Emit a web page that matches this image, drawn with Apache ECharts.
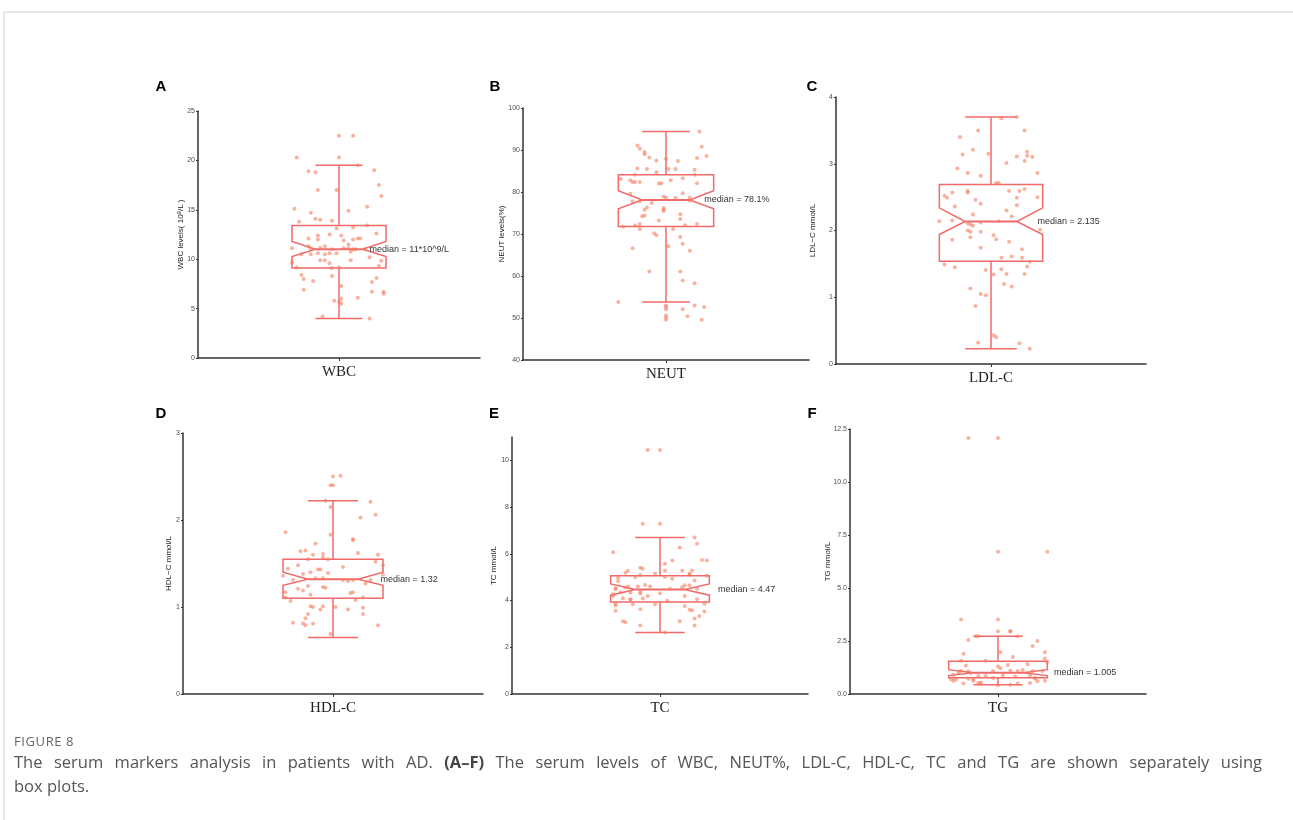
<!DOCTYPE html>
<html>
<head>
<meta charset="utf-8">
<title>Figure 8</title>
<script src="https://cdn.jsdelivr.net/npm/echarts@6/dist/echarts.min.js"></script>
<style>
  html, body { margin: 0; padding: 0; background: #fff; }
  #wrap { position: relative; width: 1293px; height: 820px; overflow: hidden; }
  #chart { width: 1293px; height: 820px; }
  .cap { position: absolute; left: 14px; font-family: "Open Sans", sans-serif; color: #555; }
  #figno { top: 732px; font-size: 13px; letter-spacing: 0.6px; color: #666; }
  #line1 { top: 750px; width: 1248px; font-size: 16.5px; line-height: 24px; text-align: justify; text-align-last: justify; white-space: nowrap; }
  #line2 { top: 774px; font-size: 16.5px; line-height: 24px; }
  #line1 b { color: #444; }
</style>
</head>
<body>
<div id="wrap">
  <div id="chart"></div>
  <div class="cap" id="figno">FIGURE 8</div>
  <div class="cap" id="line1">The serum markers analysis in patients with AD. <b>(A–F)</b> The serum levels of WBC, NEUT%, LDL-C, HDL-C, TC and TG are shown separately using</div>
  <div class="cap" id="line2">box plots.</div>
</div>
<script>
// 数据：六个指标
const categories = ['WBC', 'NEUT', 'LDL-C', 'HDL-C', 'TC', 'TG'];
const panelLetters = ['A', 'B', 'C', 'D', 'E', 'F'];
const yNames = ['WBC levels( 10{sup|9}/L )', 'NEUT levels(%)', 'LDL\u2212C mmol/L', 'HDL\u2212C mmol/L', 'TC mmol/L', 'TG mmol/L'];
const medianLabels = ['median = 11*10^9/L', 'median = 78.1%', 'median = 2.135', 'median = 1.32', 'median = 4.47', 'median = 1.005'];

// y 轴范围 / 刻度
const yMin = [0, 40, 0, 0, 0, 0];
const yMax = [25, 100, 4, 3, 11, 12.5];
const yInterval = [5, 10, 1, 1, 2, 2.5];
const tcTicks = [0, 2, 4, 6, 8, 10];

// 箱线: [下须, Q1, 中位数, Q3, 上须]，缺口: [下, 上]
const wbcBox = [4.0, 9.1, 11.0, 13.4, 19.5];
const wbcNotch = [10.28, 11.79];
const neutBox = [53.8, 71.8, 78.1, 84.1, 94.4];
const neutNotch = [76.0, 80.3];
const ldlBox = [0.23, 1.54, 2.135, 2.69, 3.70];
const ldlNotch = [1.94, 2.34];
const hdlBox = [0.65, 1.10, 1.32, 1.55, 2.22];
const hdlNotch = [1.25, 1.40];
const tcBox = [2.63, 3.94, 4.47, 5.06, 6.70];
const tcNotch = [4.23, 4.71];
const tgBox = [0.44, 0.77, 1.005, 1.54, 2.72];
const tgNotch = [0.87, 1.15];

// 散点: [抖动偏移, 值]
const wbcPoints = [[0.00,22.5],[0.06,22.5],[-0.18,20.3],[0.00,20.3],[0.08,19.5],[-0.13,18.9],[-0.10,18.8],[0.15,19.0],[0.17,17.5],[-0.09,17.0],[-0.01,17.0],[0.18,16.4],[-0.19,15.1],[0.12,15.3],[-0.12,14.7],[0.04,14.9],[-0.17,13.8],[-0.10,14.1],[-0.08,14.0],[-0.03,13.9],[0.12,13.4],[-0.01,13.1],[0.06,13.2],[0.16,12.6],[-0.09,12.4],[-0.04,12.5],[0.01,12.4],[-0.13,12.1],[-0.09,12.0],[0.08,12.1],[0.09,12.1],[0.04,11.5],[0.02,11.9],[0.06,12.0],[-0.20,11.1],[-0.13,11.3],[-0.12,11.05],[-0.06,11.3],[-0.08,11.15],[-0.03,11.0],[0.02,11.1],[0.04,11.1],[0.06,11.0],[0.07,11.0],[0.11,11.0],[-0.16,10.5],[-0.12,10.5],[-0.09,10.6],[-0.06,10.5],[-0.04,10.6],[-0.01,10.6],[0.05,10.75],[0.13,10.2],[-0.08,9.9],[-0.06,9.9],[0.05,9.9],[0.18,9.85],[-0.20,9.7],[-0.04,9.6],[-0.18,9.15],[-0.03,9.1],[0.00,9.15],[0.17,9.3],[-0.16,8.4],[-0.15,8.0],[-0.03,8.3],[0.16,8.1],[-0.11,7.8],[0.14,7.7],[0.01,7.3],[-0.15,6.9],[0.14,6.7],[0.19,6.7],[0.19,6.5],[0.08,6.1],[-0.02,5.8],[0.01,6.0],[0.00,5.7],[0.01,5.5],[-0.07,4.2],[0.13,4.0]];
const neutPoints = [[0.14,94.4],[-0.12,91.1],[-0.11,90.3],[0.15,90.8],[-0.09,89.5],[-0.09,89.0],[-0.07,88.2],[0.17,88.6],[0.13,88.1],[0.00,87.9],[-0.04,87.5],[0.05,87.4],[-0.12,85.6],[-0.08,85.5],[0.01,85.5],[0.04,85.5],[0.12,85.3],[-0.04,84.7],[-0.13,84.1],[0.12,84.1],[-0.19,83.1],[0.07,83.3],[-0.15,82.8],[-0.14,82.4],[-0.13,82.4],[-0.11,82.4],[0.02,82.8],[-0.03,82.0],[-0.02,82.1],[0.13,82.1],[-0.15,79.6],[0.07,79.7],[-0.01,78.9],[0.00,78.6],[0.04,78.6],[-0.14,77.8],[-0.11,77.8],[-0.06,77.4],[0.10,78.7],[0.10,77.9],[-0.08,76.3],[-0.09,75.8],[-0.01,76.2],[-0.01,75.8],[-0.01,75.5],[-0.09,74.4],[-0.10,74.2],[0.06,74.7],[0.06,73.6],[-0.03,73.2],[-0.11,72.4],[-0.13,72.0],[0.08,72.1],[0.13,72.4],[-0.18,71.7],[-0.11,71.2],[0.03,71.2],[-0.05,70.2],[-0.04,69.7],[0.06,69.3],[0.07,67.7],[0.01,67.1],[-0.14,66.6],[0.10,66.0],[-0.07,61.1],[0.06,61.1],[0.07,58.9],[0.12,58.3],[-0.20,53.8],[0.00,53.0],[0.00,52.6],[0.00,52.1],[0.12,53.0],[0.16,52.6],[0.07,52.1],[0.09,50.4],[0.00,50.6],[0.00,50.1],[0.00,49.6],[0.15,49.6]];
const ldlPoints = [[0.04,3.68],[0.10,3.70],[-0.05,3.50],[0.13,3.50],[-0.12,3.40],[-0.11,3.14],[-0.07,3.21],[-0.01,3.15],[0.14,3.18],[0.10,3.11],[0.14,3.12],[0.16,3.10],[0.06,3.01],[0.13,3.04],[-0.13,2.93],[-0.09,2.86],[-0.04,2.82],[0.18,2.86],[0.02,2.71],[0.03,2.71],[-0.18,2.52],[-0.17,2.49],[-0.15,2.57],[-0.09,2.57],[-0.09,2.59],[0.07,2.59],[0.11,2.59],[0.13,2.62],[0.18,2.50],[-0.14,2.36],[-0.06,2.46],[-0.04,2.40],[0.10,2.49],[0.10,2.38],[0.06,2.30],[-0.07,2.24],[0.08,2.21],[-0.20,2.14],[-0.15,2.15],[-0.09,2.11],[-0.08,2.09],[-0.07,2.07],[-0.04,2.12],[0.03,2.14],[-0.09,2.00],[-0.08,1.98],[-0.04,1.98],[-0.08,1.90],[0.01,1.93],[0.02,1.87],[0.07,1.83],[-0.15,1.86],[0.19,2.01],[-0.04,1.74],[0.12,1.72],[0.12,1.59],[0.04,1.59],[0.08,1.61],[-0.18,1.49],[-0.14,1.45],[0.15,1.53],[0.14,1.46],[-0.02,1.41],[0.04,1.42],[0.01,1.34],[0.06,1.35],[0.13,1.35],[0.05,1.20],[0.08,1.16],[-0.08,1.13],[-0.04,1.05],[-0.02,1.03],[-0.06,0.87],[0.01,0.43],[0.02,0.40],[-0.05,0.32],[0.11,0.31],[0.15,0.23]];
const hdlPoints = [[0.00,2.50],[0.03,2.51],[-0.01,2.40],[0.00,2.40],[0.15,2.21],[-0.03,2.22],[-0.01,2.15],[0.17,2.06],[0.11,2.03],[-0.19,1.86],[-0.01,1.83],[0.08,1.78],[0.08,1.77],[-0.07,1.73],[-0.13,1.64],[-0.11,1.65],[0.10,1.62],[-0.08,1.60],[-0.04,1.61],[-0.04,1.57],[0.18,1.60],[-0.10,1.55],[-0.02,1.55],[0.17,1.52],[-0.18,1.44],[-0.14,1.48],[0.04,1.46],[0.20,1.48],[-0.09,1.40],[-0.06,1.43],[-0.05,1.43],[-0.02,1.39],[-0.20,1.36],[-0.12,1.38],[0.20,1.37],[-0.16,1.31],[-0.07,1.33],[-0.04,1.33],[0.04,1.31],[0.06,1.30],[0.08,1.31],[0.15,1.31],[0.13,1.27],[-0.04,1.23],[-0.03,1.22],[-0.10,1.24],[-0.14,1.21],[-0.12,1.19],[-0.09,1.14],[-0.19,1.17],[0.08,1.17],[0.07,1.16],[-0.19,1.11],[-0.17,1.07],[0.09,1.08],[0.12,1.11],[-0.09,1.01],[-0.08,1.00],[-0.04,1.01],[-0.05,0.97],[0.01,1.00],[0.06,0.97],[0.12,0.99],[0.12,0.92],[-0.10,0.92],[-0.11,0.87],[-0.16,0.82],[-0.12,0.81],[-0.08,0.81],[-0.11,0.79],[0.18,0.79],[-0.01,0.69]];
const tcPoints = [[-0.05,10.44],[0.00,10.44],[-0.07,7.29],[0.00,7.29],[0.14,6.70],[0.15,6.43],[-0.19,6.07],[0.08,6.27],[0.05,5.71],[0.17,5.74],[0.19,5.71],[-0.08,5.40],[-0.07,5.36],[0.02,5.57],[-0.13,5.27],[-0.14,5.19],[0.02,5.27],[0.09,5.27],[0.13,5.29],[-0.10,5.01],[-0.08,5.09],[-0.02,5.16],[0.02,5.01],[0.05,4.93],[0.12,5.10],[0.12,5.16],[0.14,4.86],[0.19,5.06],[-0.17,4.99],[-0.17,4.84],[-0.18,4.53],[-0.18,4.49],[-0.14,4.56],[-0.13,4.60],[-0.09,4.60],[-0.04,4.60],[-0.06,4.67],[0.09,4.57],[0.10,4.66],[0.12,4.66],[0.15,4.51],[0.04,4.51],[-0.16,4.36],[-0.12,4.34],[-0.08,4.39],[-0.08,4.30],[0.00,4.31],[0.10,4.19],[-0.19,4.27],[-0.19,4.19],[-0.15,4.10],[-0.12,4.03],[-0.12,4.06],[-0.07,4.09],[-0.05,4.19],[0.03,3.99],[0.15,4.06],[-0.18,3.79],[-0.18,3.87],[-0.11,3.84],[-0.02,3.84],[0.10,3.77],[0.18,3.86],[-0.18,3.56],[-0.08,3.63],[0.12,3.61],[0.13,3.57],[0.18,3.53],[0.16,3.34],[0.14,3.23],[-0.15,3.11],[-0.14,3.07],[0.08,3.11],[-0.08,2.93],[0.14,2.93],[0.02,2.63]];
const tgPoints = [[-0.12,12.07],[0.00,12.07],[0.00,6.71],[0.20,6.71],[-0.15,3.51],[0.00,3.51],[0.00,2.96],[0.05,2.96],[0.05,2.96],[-0.09,2.72],[-0.08,2.72],[0.08,2.72],[-0.12,2.55],[0.16,2.50],[0.14,2.27],[0.01,1.97],[0.19,1.97],[-0.14,1.90],[0.06,1.75],[0.19,1.68],[-0.15,1.57],[-0.05,1.57],[0.20,1.51],[0.12,1.40],[-0.13,1.35],[0.00,1.31],[0.04,1.37],[0.01,1.21],[-0.15,1.09],[-0.12,1.07],[-0.11,0.99],[-0.02,1.09],[0.05,1.10],[0.08,1.09],[0.10,1.13],[0.14,1.09],[0.18,1.09],[-0.16,1.01],[-0.18,0.91],[-0.08,0.85],[-0.05,0.85],[-0.02,0.76],[0.02,0.88],[0.07,0.83],[0.13,0.88],[0.15,0.77],[-0.19,0.69],[-0.18,0.63],[-0.17,0.68],[-0.10,0.69],[-0.10,0.63],[-0.12,0.72],[0.15,0.72],[0.19,0.63],[0.16,0.60],[-0.14,0.49],[-0.08,0.52],[-0.07,0.47],[-0.07,0.54],[0.13,0.52],[0.05,0.44],[0.08,0.49],[0.00,0.41]];

const boxes = [wbcBox, neutBox, ldlBox, hdlBox, tcBox, tgBox];
const notches = [wbcNotch, neutNotch, ldlNotch, hdlNotch, tcNotch, tgNotch];
const points = [wbcPoints, neutPoints, ldlPoints, hdlPoints, tcPoints, tgPoints];

// 布局
const layout = [
    { left: 198, top: 111, width: 282, height: 247, nameGap: 12, letter: [161, 87], labelDx: 0.13 },
    { left: 523, top: 108, width: 286, height: 252, nameGap: 17, letter: [495, 87], labelDx: 0.16 },
    { left: 836, top: 97, width: 310, height: 267, nameGap: 19, letter: [812, 87], labelDx: 0.18 },
    { left: 183, top: 433, width: 300, height: 261, nameGap: 10, letter: [161, 414], labelDx: 0.19 },
    { left: 512, top: 437, width: 296, height: 257, nameGap: 14, letter: [494, 414], labelDx: 0.235 },
    { left: 850, top: 429, width: 296, height: 265, nameGap: 18, letter: [812, 414], labelDx: 0.227 }
];

const CENTER = 1;
const BOX_HALF = 0.2;
const CAP_HALF = 0.1;
const NOTCH_IN = 0.1;
const boxColor = '#f06a6a';
const axisColor = '#333';

const grids = [], xAxes = [], yAxes = [], series = [], graphics = [];

layout.forEach((g, i) => {
    grids.push({ left: g.left, top: g.top, width: g.width, height: g.height });
    xAxes.push({
        type: 'value', gridIndex: i, min: 0.4, max: 1.6,
        axisLine: { show: true, lineStyle: { color: axisColor, width: 1.5 } },
        axisTick: { show: true, length: 3, customValues: [CENTER], lineStyle: { color: axisColor } },
        axisLabel: {
            customValues: [CENTER], formatter: () => categories[i],
            fontFamily: '"Liberation Serif", "DejaVu Serif", serif', fontSize: 15, color: '#222', margin: 7
        },
        splitLine: { show: false }
    });
    const isTC = i === 4;
    yAxes.push({
        type: 'value', gridIndex: i, min: yMin[i], max: yMax[i], interval: yInterval[i],
        name: yNames[i], nameLocation: 'middle', nameGap: g.nameGap, nameMoveOverlap: false,
        nameTextStyle: {
            fontFamily: '"Liberation Sans", Arial, sans-serif', fontSize: 8, color: '#222',
            rich: { sup: { fontSize: 6, verticalAlign: 'top', color: '#222', padding: [0, 0, 4, 0] } }
        },
        axisLine: { show: true, lineStyle: { color: axisColor, width: 1.5 } },
        axisTick: Object.assign({ show: true, length: 2, lineStyle: { color: axisColor } }, isTC ? { customValues: tcTicks } : {}),
        axisLabel: Object.assign({
            fontFamily: '"Liberation Sans", Arial, sans-serif', fontSize: 7, color: '#4d4d4d', margin: 3,
            formatter: v => i === 5 ? v.toFixed(1) : String(v)
        }, isTC ? { customValues: tcTicks } : {}),
        splitLine: { show: false }
    });

    // 缺口箱线图
    series.push({
        type: 'custom', xAxisIndex: i, yAxisIndex: i, silent: true, z: 2,
        data: [[CENTER].concat(boxes[i], notches[i])],
        renderItem: (params, api) => {
            const c = api.value(0);
            const lw = api.value(1), q1 = api.value(2), med = api.value(3), q3 = api.value(4), uw = api.value(5);
            const nlo = api.value(6), nhi = api.value(7);
            const x0 = c - BOX_HALF, x1 = c + BOX_HALF;
            const p = (x, y) => api.coord([x, y]);
            const ls = { stroke: boxColor, lineWidth: 1.5, fill: null };
            const lp = p(c + g.labelDx, med);
            return {
                type: 'group',
                children: [
                    { type: 'polygon', shape: { points: [p(x0, q3), p(x0, nhi), p(x0 + NOTCH_IN, med), p(x0, nlo), p(x0, q1), p(x1, q1), p(x1, nlo), p(x1 - NOTCH_IN, med), p(x1, nhi), p(x1, q3)] }, style: ls },
                    { type: 'polyline', shape: { points: [p(x0 + NOTCH_IN, med), p(x1 - NOTCH_IN, med)] }, style: Object.assign({}, ls, { lineWidth: 2 }) },
                    { type: 'polyline', shape: { points: [p(c, q3), p(c, uw)] }, style: ls },
                    { type: 'polyline', shape: { points: [p(c, q1), p(c, lw)] }, style: ls },
                    { type: 'polyline', shape: { points: [p(c - CAP_HALF, uw), p(c + CAP_HALF, uw)] }, style: ls },
                    { type: 'polyline', shape: { points: [p(c - CAP_HALF, lw), p(c + CAP_HALF, lw)] }, style: ls },
                    {
                        type: 'text', x: lp[0], y: lp[1],
                        style: { text: medianLabels[i], fill: '#333', font: '9px "Liberation Sans", Arial, sans-serif', align: 'left', verticalAlign: 'middle' }
                    }
                ]
            };
        }
    });

    // 抖动散点
    series.push({
        type: 'scatter', xAxisIndex: i, yAxisIndex: i, silent: true, z: 3,
        symbolSize: 4,
        itemStyle: { color: 'rgba(246,122,90,0.72)' },
        data: points[i].map(d => [CENTER + d[0], d[1]])
    });

    graphics.push({
        type: 'text', x: g.letter[0], y: g.letter[1],
        style: { text: panelLetters[i], font: 'bold 15px "Liberation Sans", Arial, sans-serif', fill: '#000', align: 'center', verticalAlign: 'middle' }
    });
});

// 外框
graphics.push(
    { type: 'line', shape: { x1: 4, y1: 12, x2: 1293, y2: 12 }, style: { stroke: '#cfcfcf', lineWidth: 1 } },
    { type: 'line', shape: { x1: 4, y1: 12, x2: 4, y2: 820 }, style: { stroke: '#cfcfcf', lineWidth: 1 } }
);

const chart = echarts.init(document.getElementById('chart'));
chart.setOption({
    animation: false,
    backgroundColor: '#fff',
    grid: grids,
    xAxis: xAxes,
    yAxis: yAxes,
    series: series,
    graphic: graphics
});
</script>
</body>
</html>
